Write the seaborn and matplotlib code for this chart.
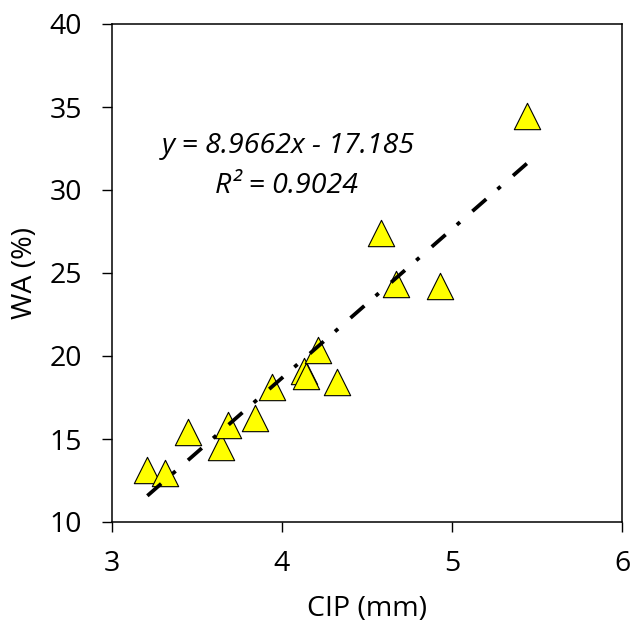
import numpy as np
import pandas as pd
import matplotlib
matplotlib.use("Agg")
import matplotlib.pyplot as plt
import seaborn as sns

# CIP (mm) vs WA (%) measurements
cip = [3.208, 3.312, 3.449, 3.639, 3.684, 3.841, 3.939, 4.131, 4.141, 4.214,
       4.322, 4.581, 4.672, 4.929, 5.441]
wa = [13.13, 12.93, 15.44, 14.54, 15.84, 16.25, 18.15, 19.10, 18.78, 20.36,
      18.45, 27.43, 24.34, 24.22, 34.46]

# linear trendline coefficients
slope = 8.9662
intercept = -17.185
r_squared = 0.9024

x_ticks = [3, 4, 5, 6]
y_ticks = [10, 15, 20, 25, 30, 35, 40]

sns.set_theme(style="white")
plt.rcParams["font.family"] = ["Open Sans", "DejaVu Sans"]

fig = plt.figure(figsize=(6.32, 6.25), dpi=100)
ax = fig.add_axes([112 / 632, 103 / 625, 510 / 632, 498 / 625])

df = pd.DataFrame({"CIP": cip, "WA": wa})
sns.scatterplot(data=df, x="CIP", y="WA", ax=ax, marker="^", s=360,
                color="#FFFF00", edgecolor="black", linewidth=0.8, zorder=3)

xs = np.array([min(cip), max(cip)])
trend = pd.DataFrame({"x": xs, "y": slope * xs + intercept})
sns.lineplot(data=trend, x="x", y="y", ax=ax, color="black", linewidth=2.7,
             zorder=4)
line = ax.lines[-1]
line.set_dash_capstyle("butt")
line.set_dashes((4.9, 4.0, 1.1, 4.4))

fs = 20.5
eq_font = dict(fontsize=fs, style="italic", color="black", ha="center",
               va="baseline")
ax.text(4.035, 32.23, f"y = {slope}x - {abs(intercept)}", **eq_font)
ax.text(4.024, 29.82, f"R² = {r_squared}", **eq_font)

ax.set_xlim(3, 6)
ax.set_ylim(10, 40)
ax.set_xticks(x_ticks)
ax.set_yticks(y_ticks)
ax.set_xlabel("CIP (mm)", fontsize=fs, color="black")
ax.set_ylabel("WA (%)", fontsize=fs, color="black")
ax.xaxis.set_label_coords(0.5, -0.147)
ax.yaxis.set_label_coords(-0.143, 0.5)
ax.tick_params(axis="both", which="major", direction="out", length=7.5,
               width=1.0, color="black", labelsize=fs, labelcolor="black",
               bottom=True, left=True)
ax.tick_params(axis="x", pad=13)
ax.tick_params(axis="y", pad=14)
for sp in ax.spines.values():
    sp.set_color("black")
    sp.set_linewidth(1.1)
    sp.set_visible(True)

fig.savefig("out.png", dpi=100, facecolor="white")
